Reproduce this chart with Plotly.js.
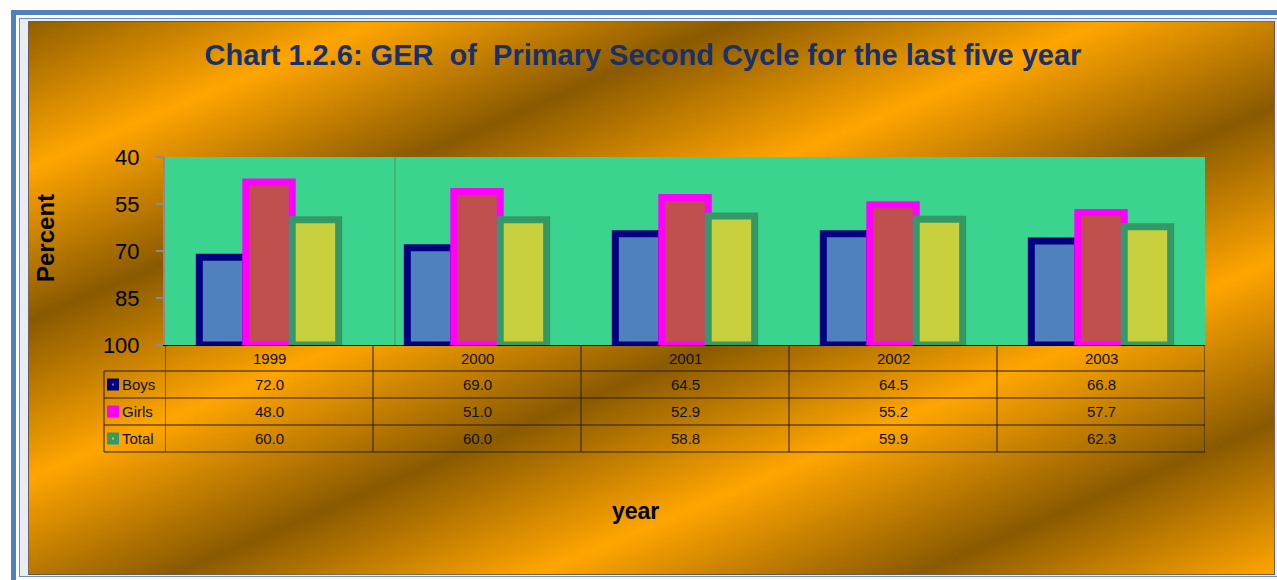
<!DOCTYPE html>
<html>
<head>
<meta charset="utf-8">
<script src="https://cdn.plot.ly/plotly-3.0.1.min.js"></script>
<style>
  html, body { margin:0; padding:0; width:1277px; height:580px; overflow:hidden; background:#ffffff; }
  #outer { position:absolute; left:11px; top:10px; width:1300px; height:600px; border:5px solid #4f81bd; box-sizing:border-box; }
  #inner { position:absolute; left:19px; top:18px; width:1300px; height:559px; border:1px solid #6b8cbf; background:#e8ecf5; box-sizing:border-box; }
  #chartbg { position:absolute; left:28px; top:21px; width:1247px; height:554px; box-sizing:border-box;
    border:1px solid rgba(80,80,110,0.7);
    background: linear-gradient(157deg,
      #8a5a00 -10px, #ffa500 135px, #8a5a00 275px, #ffa500 420px,
      #8a5a00 565px, #ffa500 707px, #8a5a00 855px, #ffa500 995px, #8a5a00 1140px); }
  #chart { position:absolute; left:0; top:0; width:1277px; height:580px; }
</style>
</head>
<body>
<div id="outer"></div>
<div id="inner"></div>
<div id="chartbg"></div>
<div id="chart"></div>
<script>
// ---- data ----
const years = ['1999', '2000', '2001', '2002', '2003'];
const boys  = [72.0, 69.0, 64.5, 64.5, 66.8];
const girls = [48.0, 51.0, 52.9, 55.2, 57.7];
const total = [60.0, 60.0, 58.8, 59.9, 62.3];
const seriesNames = ['Boys', 'Girls', 'Total'];
const yTicks = [40, 55, 70, 85, 100];

// ---- layout helpers (pixel -> paper) ----
const L = 165, R = 1205, T = 157, B = 345;
const W = 1277, H = 580;
const px = p => (p - L) / (R - L);
const py = p => (B - p) / (B - T);
const BASE = 100;

const fills   = ['#4f81bd', '#c0504d', '#c8cf3c'];
const borders = ['#000080', '#ff00ff', '#339966'];
const seriesVals = [boys, girls, total];

const traces = seriesVals.map((vals, i) => ({
  type: 'bar',
  name: seriesNames[i],
  x: years,
  y: vals.map(v => v - BASE),
  base: years.map(() => BASE),
  cliponaxis: false,
  marker: { color: fills[i], line: { color: borders[i], width: 7 } },
  hoverinfo: 'skip'
}));

const FONT = 'Arial, "Liberation Sans", sans-serif';
const lineCol = '#2a1c00';
const rowEdges = [345, 371, 398, 425, 452];
const shapes = [];
const annotations = [];

// horizontal table lines
for (let k = 1; k < rowEdges.length; k++) {
  shapes.push({ type:'line', xref:'paper', yref:'paper', x0: px(104), x1: px(1205),
    y0: py(rowEdges[k]), y1: py(rowEdges[k]), line:{ color: lineCol, width: 1 } });
}
// left label column border
shapes.push({ type:'line', xref:'paper', yref:'paper', x0: px(104), x1: px(104),
  y0: py(371), y1: py(452), line:{ color: lineCol, width: 1 } });
// category column borders
for (let i = 0; i <= years.length; i++) {
  shapes.push({ type:'line', xref:'x', yref:'paper', x0: i - 0.5, x1: i - 0.5,
    y0: py(345), y1: py(452), line:{ color: lineCol, width: 1 } });
}
// faint vertical line in plot area
shapes.push({ type:'line', xref:'paper', yref:'paper', x0: px(395), x1: px(395),
  y0: py(157), y1: py(345), line:{ color: 'rgba(110,100,20,0.55)', width: 1 }, layer:'below' });

// year header
years.forEach((yr, i) => {
  annotations.push({ xref:'x', yref:'paper', x: i, y: py(358), text: yr, showarrow:false,
    xanchor:'center', yanchor:'middle', font:{ family: FONT, size: 15, color:'#111' } });
});
// rows
const rowCenters = [384.5, 411.5, 438.5];
seriesVals.forEach((vals, r) => {
  const yc = rowCenters[r];
  // legend key
  shapes.push({ type:'rect', xref:'paper', yref:'paper', x0: px(107), x1: px(119),
    y0: py(yc - 6), y1: py(yc + 6), fillcolor: borders[r], line:{ width: 0 } });
  shapes.push({ type:'rect', xref:'paper', yref:'paper', x0: px(112), x1: px(114),
    y0: py(yc - 1), y1: py(yc + 1), fillcolor: fills[r], line:{ width: 0 } });
  annotations.push({ xref:'paper', yref:'paper', x: px(120), y: py(yc), text: seriesNames[r],
    showarrow:false, xanchor:'left', yanchor:'middle', font:{ family: FONT, size: 15, color:'#111' } });
  vals.forEach((v, i) => {
    annotations.push({ xref:'x', yref:'paper', x: i, y: py(yc), text: v.toFixed(1),
      showarrow:false, xanchor:'center', yanchor:'middle', font:{ family: FONT, size: 15, color:'#111' } });
  });
});
// axis titles
annotations.push({ xref:'paper', yref:'paper', x: px(45), y: py(238), text:'<b>Percent</b>',
  textangle:-90, showarrow:false, xanchor:'center', yanchor:'middle', font:{ family: FONT, size: 24, color:'#000' } });
annotations.push({ xref:'paper', yref:'paper', x: px(635), y: py(511), text:'<b>year</b>',
  showarrow:false, xanchor:'center', yanchor:'middle', font:{ family: FONT, size: 23, color:'#000' } });

const layout = {
  width: W, height: H,
  margin: { l: L, r: W - R, t: T, b: H - B, pad: 0 },
  paper_bgcolor: 'rgba(0,0,0,0)',
  plot_bgcolor: '#3ad48e',
  showlegend: false,
  barmode: 'group',
  bargap: 0.33,
  bargroupgap: 0,
  title: { text: '<b>Chart 1.2.6: GER&nbsp; of&nbsp; Primary Second Cycle for the last five year</b>',
    xref:'container', yref:'container', x: 643 / W, y: 1 - 55 / H, xanchor:'center', yanchor:'middle',
    font: { family: FONT, size: 29, color: '#17306e' } },
  xaxis: { type:'category', categoryarray: years, range:[-0.5, years.length - 0.5], autorange:false,
    showticklabels:false, ticks:'', showgrid:false, zeroline:false,
    showline:true, linecolor:'#000', linewidth:1, layer:'below traces', fixedrange:true },
  yaxis: { range:[100, 40], autorange:false, tickvals: yTicks, ticktext: yTicks.map(String), showgrid:false, zeroline:false,
    ticks:'outside', ticklen:7, tickwidth:2, tickcolor:'#8c8c8c', showline:true, linecolor:'#8c8c8c', linewidth:2,
    ticklabelstandoff: 12, tickfont:{ family: FONT, size: 22, color:'#000' }, fixedrange:true },
  shapes: shapes,
  annotations: annotations
};

Plotly.newPlot('chart', traces, layout, { displayModeBar:false, staticPlot:true });
</script>
</body>
</html>
